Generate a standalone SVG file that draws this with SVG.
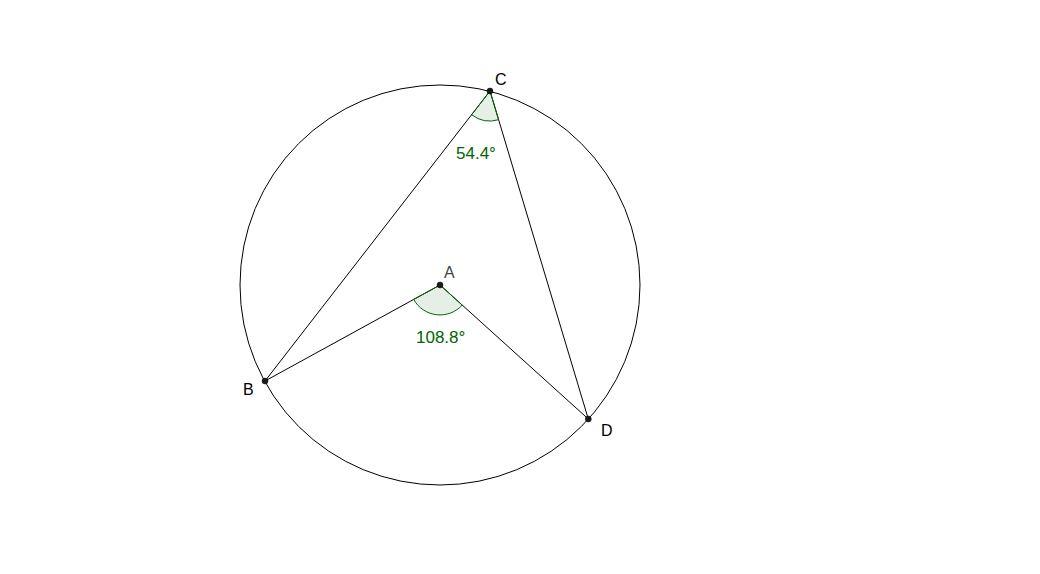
<svg xmlns="http://www.w3.org/2000/svg" width="1040" height="574" viewBox="0 0 1040 574">
<style>
.ln{stroke:#000;stroke-width:1;fill:none}
.ang{fill:#006400;fill-opacity:0.1;stroke:#006400;stroke-width:1}
.pt{fill:#1a1a1a;stroke:#000;stroke-width:0.5}
.lbl{font-family:"Liberation Sans",Arial,sans-serif;font-size:16px;fill:#000}
.val{font-family:"Liberation Sans",Arial,sans-serif;font-size:17px;fill:#006400}
</style>
<rect width="1040" height="574" fill="#fff"/>
<g id="connectors">
<circle class="ln" cx="440" cy="285" r="200"/>
<line class="ln" x1="490" y1="91" x2="265" y2="381"/>
<line class="ln" x1="490" y1="91" x2="588.3" y2="419"/>
<line class="ln" x1="440" y1="285" x2="265" y2="381"/>
<line class="ln" x1="440" y1="285" x2="588.3" y2="419"/>
</g>
<g id="angleC">
<path class="ang" d="M490,91 L471.6,114.7 A30,30 0 0 0 498.6,119.7 Z"/>
<text class="val" x="456" y="159">54.4°</text>
</g>
<g id="angleA">
<path class="ang" d="M440,285 L413.7,299.4 A30,30 0 0 0 462.2,305.1 Z"/>
<text class="val" x="416" y="343">108.8°</text>
</g>
<g id="nodeA">
<circle class="pt" cx="440" cy="285" r="3"/>
<text class="lbl" x="444" y="278" style="fill:#444">A</text>
</g>
<g id="nodeB">
<circle class="pt" cx="265" cy="381" r="3"/>
<text class="lbl" x="243" y="395">B</text>
</g>
<g id="nodeC">
<circle class="pt" cx="490" cy="91" r="3"/>
<text class="lbl" x="495" y="85">C</text>
</g>
<g id="nodeD">
<circle class="pt" cx="588.3" cy="419" r="3"/>
<text class="lbl" x="601" y="436">D</text>
</g>
</svg>
